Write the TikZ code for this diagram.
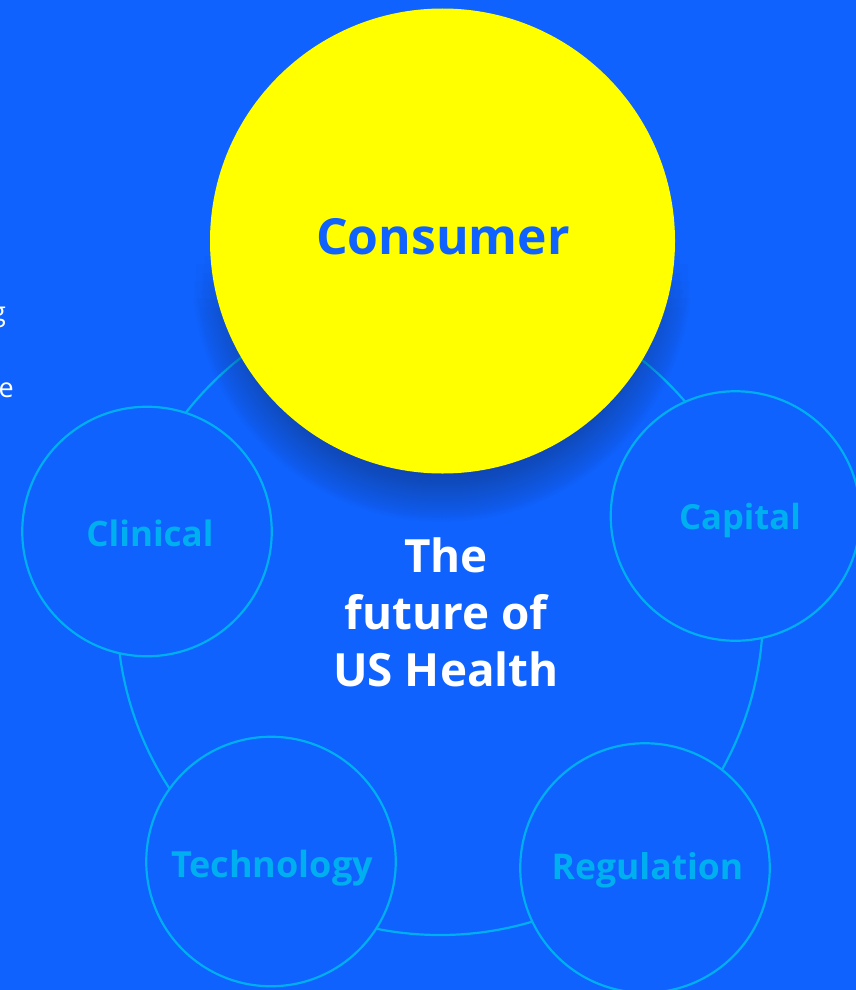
\documentclass[tikz,border=0pt]{standalone}
\usepackage{fontspec}
\setmainfont{Open Sans}
\definecolor{bgblue}{RGB}{15,98,254}
\definecolor{ringc}{RGB}{0,175,240}
\definecolor{shadowc}{RGB}{20,50,110}
\definecolor{yel}{RGB}{255,255,0}
\tikzset{
  x=1pt,y=-1pt,
  ball/.style={circle,draw=ringc,line width=2.2pt,fill=bgblue,minimum size=249.5pt,inner sep=0pt},
  ringnode/.style={circle,draw=ringc,line width=2.2pt,minimum size=646pt,inner sep=0pt},
  hero/.style={circle,fill=yel,minimum size=465pt,inner sep=0pt},
  label/.style={text=ringc,inner sep=0pt,font=\fontsize{#1}{40}\selectfont\bfseries},
  head/.style={align=center,text=white,font=\fontsize{45.8}{57}\selectfont\bfseries},
  stray/.style={text=white,inner sep=0pt,font=\fontsize{27}{30}\selectfont}
}
\begin{document}
\begin{tikzpicture}
\useasboundingbox (0,0) rectangle (856,990);
\fill[bgblue] (0,0) rectangle (856,990);
\node[stray,anchor=base east] (sg) at (6,321) {g};
\node[stray,anchor=base east] (se) at (14,397) {e};
\node[ringnode] (ring) at (440,612) {};
\node[ball] (clinical) at (147,531.5) {};
\node[ball] (capital) at (735.5,516) {};
\node[ball] (technology) at (271,861.5) {};
\node[ball] (regulation) at (645,868) {};
\node[label=35] (tclinical) at (150,533) {Clinical};
\node[label=34.6] (tcapital) at (740,521) {Capital};
\node[label=36] (ttech) at (272,868) {Technology};
\node[label=35.5] (treg) at (647.5,870) {Regulation};
\foreach \r [count=\i] in {204,206,...,250}{
  \pgfmathsetmacro{\ytop}{250+mod(\i*17,60)}
  \begin{scope}
    \clip (0,\ytop) rectangle (856,600);
    \fill[shadowc,opacity=0.023] (442,272) circle[radius=\r];
  \end{scope}
}
\node[hero] (consumer) at (442.5,241) {};
\node[text=bgblue,inner sep=0pt,font=\fontsize{49.8}{52}\selectfont\bfseries] (tconsumer) at (443,237) {Consumer};
\node[head] (title) at (446,612.5) {The\\future of\\US Health};
\end{tikzpicture}
\end{document}
